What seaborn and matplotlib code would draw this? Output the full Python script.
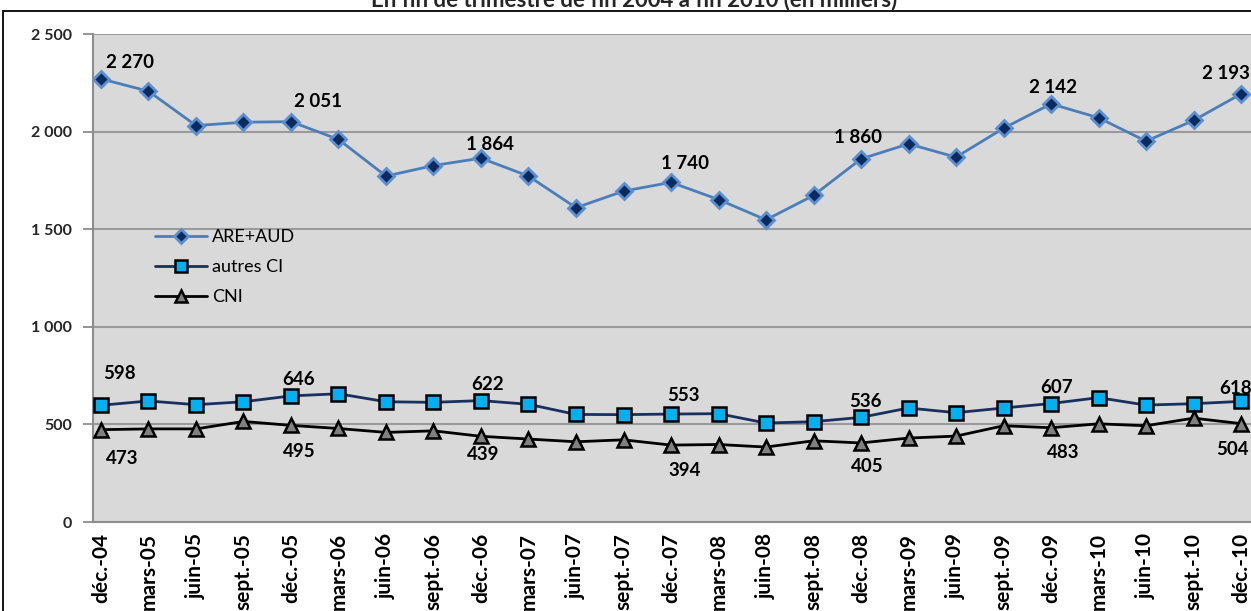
import numpy as np
import pandas as pd
import matplotlib
matplotlib.use("Agg")
import matplotlib.pyplot as plt
import matplotlib.patches as mpatches
import seaborn as sns

# ---------------- data ----------------
categories = ["déc.-04", "mars-05", "juin-05", "sept.-05", "déc.-05", "mars-06", "juin-06",
              "sept.-06", "déc.-06", "mars-07", "juin-07", "sept.-07", "déc.-07", "mars-08",
              "juin-08", "sept.-08", "déc.-08", "mars-09", "juin-09", "sept.-09", "déc.-09",
              "mars-10", "juin-10", "sept.-10", "déc.-10"]

are_aud = [2270, 2207, 2031, 2048, 2051, 1960, 1772, 1826, 1864, 1772, 1610, 1695, 1740,
           1652, 1548, 1673, 1860, 1937, 1869, 2017, 2142, 2071, 1951, 2057, 2193]
autres_ci = [598, 620, 601, 616, 646, 657, 616, 613, 622, 603, 551, 550, 553,
             555, 507, 514, 536, 584, 560, 584, 607, 637, 599, 606, 618]
cni = [473, 477, 477, 515, 495, 479, 459, 467, 439, 425, 411, 421, 394,
       397, 384, 416, 405, 430, 440, 493, 483, 503, 493, 532, 504]

series_names = ["ARE+AUD", "autres CI", "CNI"]
yticks = [0, 500, 1000, 1500, 2000, 2500]
labelled_idx = [0, 4, 8, 12, 16, 20, 24]
title = "En fin de trimestre de fin 2004 à fin 2010 (en milliers)"

# label offsets (pixels) - style only
off_are = [(29, 16), (27, 20), (9, 14), (14, 19), (-3, 21), (2, 16), (-15, 20)]
off_ci = [(19, 32), (8, 16), (7, 16), (12, 19), (4, 16), (6, 16), (-5, 13)]
off_cni = [(21, -29), (8, -26), (2, -18), (14, -25), (6, -24), (12, -25), (-9, -26)]


def fmt(v):
    return f"{v:,}".replace(",", " ")


# ---------------- figure ----------------
sns.set_theme(style="white")
plt.rcParams["font.family"] = ["Lato", "DejaVu Sans"]

W, H = 1251, 611
fig = plt.figure(figsize=(W / 100, H / 100), dpi=100)
ax_left, ax_right, ax_top, ax_bot = 93, 1251, 34, 522
ax = fig.add_axes([ax_left / W, (H - ax_bot) / H, (ax_right - ax_left) / W, (ax_bot - ax_top) / H])
ax.set_facecolor("#D9D9D9")

x = np.arange(len(categories))
df = pd.DataFrame({"x": x, "ARE+AUD": are_aud, "autres CI": autres_ci, "CNI": cni})

sns.lineplot(data=df, x="x", y="ARE+AUD", ax=ax, color="#4A7EBB", linewidth=2.0,
             marker="D", markersize=8.5, markerfacecolor="#0B2A5E", markeredgecolor="#5B8FD0",
             markeredgewidth=2.0, label="ARE+AUD", zorder=5)
sns.lineplot(data=df, x="x", y="autres CI", ax=ax, color="#17315F", linewidth=2.0,
             marker="s", markersize=10, markerfacecolor="#00B0F0", markeredgecolor="#000000",
             markeredgewidth=1.8, label="autres CI", zorder=5)
sns.lineplot(data=df, x="x", y="CNI", ax=ax, color="#000000", linewidth=2.0,
             marker="^", markersize=10.5, markerfacecolor="#808080", markeredgecolor="#000000",
             markeredgewidth=1.8, label="CNI", zorder=5)

# data labels
for vals, offs in [(are_aud, off_are), (autres_ci, off_ci), (cni, off_cni)]:
    for i, (dx, dy) in zip(labelled_idx, offs):
        ax.annotate(fmt(vals[i]), (x[i], vals[i]), xytext=(dx, dy), textcoords="offset pixels",
                    ha="center", va="center", fontsize=13.5, fontweight="bold", color="black",
                    zorder=6, annotation_clip=False)

# axes
tick_shift = 0.168
ax.set_xlim(-tick_shift, 24.21)
ax.set_ylim(0, 2500)
ax.set_xticks(x)
ax.set_xticklabels(categories, rotation=90, fontsize=15, fontweight="bold")
ax.set_xticks(x - tick_shift, minor=True)
ax.tick_params(axis="x", which="major", length=0, pad=8, colors="black")
ax.tick_params(axis="x", which="minor", length=5, width=1.3, color="#8C8C8C", direction="out")
ax.set_yticks(yticks)
ax.set_yticklabels([fmt(v) for v in yticks], fontsize=11.5, fontweight="bold")
ax.tick_params(axis="y", length=7, width=1.3, color="#8C8C8C", direction="out", pad=8, left=True)
ax.set_xlabel("")
ax.set_ylabel("")
ax.yaxis.grid(True, color="#9A9A9A", linewidth=1.5)
ax.set_axisbelow(True)
for s in ["top", "right"]:
    ax.spines[s].set_visible(False)
for s in ["left", "bottom"]:
    ax.spines[s].set_color("#8C8C8C")
    ax.spines[s].set_linewidth(1.5)

# legend
leg = ax.legend(loc="upper left", bbox_to_anchor=(0.0535, 0.6), frameon=False, fontsize=13,
                handlelength=2.9, handletextpad=0.25, labelspacing=0.78, borderpad=0,
                borderaxespad=0, markerscale=0.8)
for t in leg.get_texts():
    t.set_color("black")

# title (cut at top, as in the original) and chart border
fig.text(634 / W, 1 - 6 / H, title, ha="center", va="baseline", fontsize=16, fontweight="bold")
rect = mpatches.Rectangle((3 / W, -0.05), 1.2, (H - 11) / H + 0.05, transform=fig.transFigure,
                          fill=False, edgecolor="black", linewidth=1.3, clip_on=False)
fig.add_artist(rect)

fig.savefig("out.png", dpi=100)
